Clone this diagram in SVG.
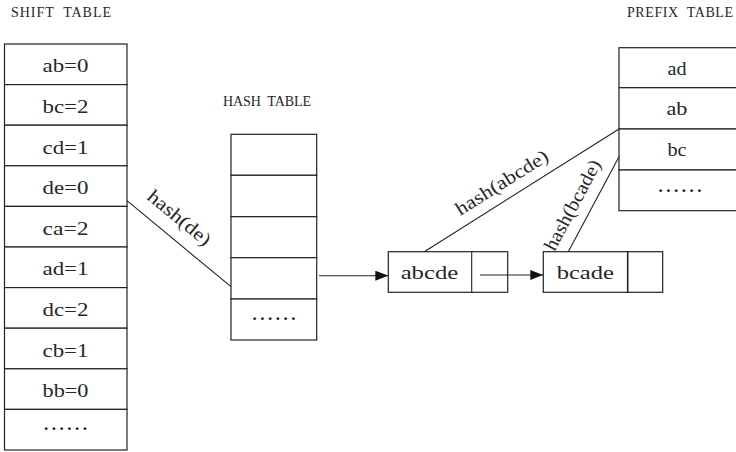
<svg xmlns="http://www.w3.org/2000/svg" width="736" height="452" viewBox="0 0 736 452">
<style>
.cell{fill:#fff;stroke:#222;stroke-width:1.2}
.t{font-family:"Liberation Serif","Times New Roman",serif;font-size:18.5px;fill:#262626;text-anchor:middle}
.lb{font-family:"Liberation Serif","Times New Roman",serif;font-size:19px;fill:#262626;text-anchor:middle}
.ttl{font-family:"Liberation Serif","Times New Roman",serif;font-size:14px;fill:#262626}
.dots{font-family:"Liberation Serif",serif;font-size:17px;font-weight:bold;fill:#111;text-anchor:middle}
.ln{stroke:#222;stroke-width:1.1;fill:none}
</style>
<defs>
<marker id="ah" viewBox="0 0 13 10" refX="13" refY="5" markerWidth="13" markerHeight="10" markerUnits="userSpaceOnUse" orient="auto">
<path d="M0,0 L13,5 L0,10 Z" fill="#111"/>
</marker>
</defs>

<text class="ttl" x="11" y="16.5" textLength="100" xml:space="preserve">SHIFT  TABLE</text>
<text class="ttl" x="223" y="105.5" textLength="88" xml:space="preserve">HASH  TABLE</text>
<text class="ttl" x="627" y="16.5" textLength="106" xml:space="preserve">PREFIX  TABLE</text>

<g id="shift-table">
<rect class="cell" x="4.5" y="44" width="122.5" height="40.6"/>
<rect class="cell" x="4.5" y="84.6" width="122.5" height="40.6"/>
<rect class="cell" x="4.5" y="125.2" width="122.5" height="40.6"/>
<rect class="cell" x="4.5" y="165.8" width="122.5" height="40.6"/>
<rect class="cell" x="4.5" y="206.4" width="122.5" height="40.6"/>
<rect class="cell" x="4.5" y="247" width="122.5" height="40.6"/>
<rect class="cell" x="4.5" y="287.6" width="122.5" height="40.6"/>
<rect class="cell" x="4.5" y="328.2" width="122.5" height="40.6"/>
<rect class="cell" x="4.5" y="368.8" width="122.5" height="40.6"/>
<rect class="cell" x="4.5" y="409.4" width="122.5" height="40.6"/>
<text class="t" x="65.5" y="72.3" textLength="46" lengthAdjust="spacingAndGlyphs">ab=0</text>
<text class="t" x="65.5" y="112.9" textLength="46" lengthAdjust="spacingAndGlyphs">bc=2</text>
<text class="t" x="65.5" y="153.5" textLength="46" lengthAdjust="spacingAndGlyphs">cd=1</text>
<text class="t" x="65.5" y="194.1" textLength="46" lengthAdjust="spacingAndGlyphs">de=0</text>
<text class="t" x="65.5" y="234.7" textLength="46" lengthAdjust="spacingAndGlyphs">ca=2</text>
<text class="t" x="65.5" y="275.3" textLength="46" lengthAdjust="spacingAndGlyphs">ad=1</text>
<text class="t" x="65.5" y="315.9" textLength="46" lengthAdjust="spacingAndGlyphs">dc=2</text>
<text class="t" x="65.5" y="356.5" textLength="46" lengthAdjust="spacingAndGlyphs">cb=1</text>
<text class="t" x="65.5" y="397.1" textLength="46" lengthAdjust="spacingAndGlyphs">bb=0</text>
<text class="dots" x="65.5" y="430" textLength="43" lengthAdjust="spacing">......</text>
</g>

<g id="hash-table">
<rect class="cell" x="231" y="134.3" width="85.7" height="41"/>
<rect class="cell" x="231" y="175.3" width="85.7" height="41.4"/>
<rect class="cell" x="231" y="216.7" width="85.7" height="41"/>
<rect class="cell" x="231" y="257.7" width="85.7" height="41.3"/>
<rect class="cell" x="231" y="299" width="85.7" height="41"/>
<text class="dots" x="274" y="320" textLength="43" lengthAdjust="spacing">......</text>
</g>

<g id="prefix-table">
<rect class="cell" x="619" y="47.7" width="120" height="40"/>
<rect class="cell" x="619" y="87.7" width="120" height="41.3"/>
<rect class="cell" x="619" y="129" width="120" height="41"/>
<rect class="cell" x="619" y="170" width="120" height="40.7"/>
<text class="t" x="677" y="75" textLength="19" lengthAdjust="spacingAndGlyphs">ad</text>
<text class="t" x="677" y="115" textLength="21" lengthAdjust="spacingAndGlyphs">ab</text>
<text class="t" x="677" y="155.5" textLength="19" lengthAdjust="spacingAndGlyphs">bc</text>
<text class="dots" x="680" y="191.5" textLength="43" lengthAdjust="spacing">......</text>
</g>

<g id="node-abcde">
<rect class="cell" x="388.3" y="251.7" width="119.4" height="40.6"/>
<line class="ln" x1="471.7" y1="251.7" x2="471.7" y2="292.3"/>
<text class="t" x="429.5" y="278.5" textLength="57.7" lengthAdjust="spacingAndGlyphs">abcde</text>
</g>

<g id="node-bcade">
<rect class="cell" x="543.3" y="251.7" width="119.4" height="40.6"/>
<line class="ln" x1="627.7" y1="251.7" x2="627.7" y2="292.3" style="stroke-width:1.6"/>
<text class="t" x="585.3" y="278.5" textLength="57.3" lengthAdjust="spacingAndGlyphs">bcade</text>
</g>

<g id="connectors">
<line class="ln" x1="127" y1="200.7" x2="231" y2="286.7"/>
<line class="ln" x1="319" y1="275.7" x2="388.3" y2="275.7" marker-end="url(#ah)"/>
<line class="ln" x1="480" y1="275" x2="543.3" y2="275" marker-end="url(#ah)"/>
<line class="ln" x1="424.3" y1="251.7" x2="619" y2="129"/>
<line class="ln" x1="568.3" y1="251.7" x2="619" y2="156.7"/>
<text class="lb" transform="translate(175.4,222.6) rotate(39.6)" x="0" y="0" textLength="76" lengthAdjust="spacingAndGlyphs">hash(de)</text>
<text class="lb" transform="translate(505,187.8) rotate(-32.2)" x="0" y="0" textLength="106" lengthAdjust="spacingAndGlyphs">hash(abcde)</text>
<text class="lb" transform="translate(578,208) rotate(-61.9)" x="0" y="0" textLength="100" lengthAdjust="spacingAndGlyphs">hash(bcade)</text>
</g>
</svg>
